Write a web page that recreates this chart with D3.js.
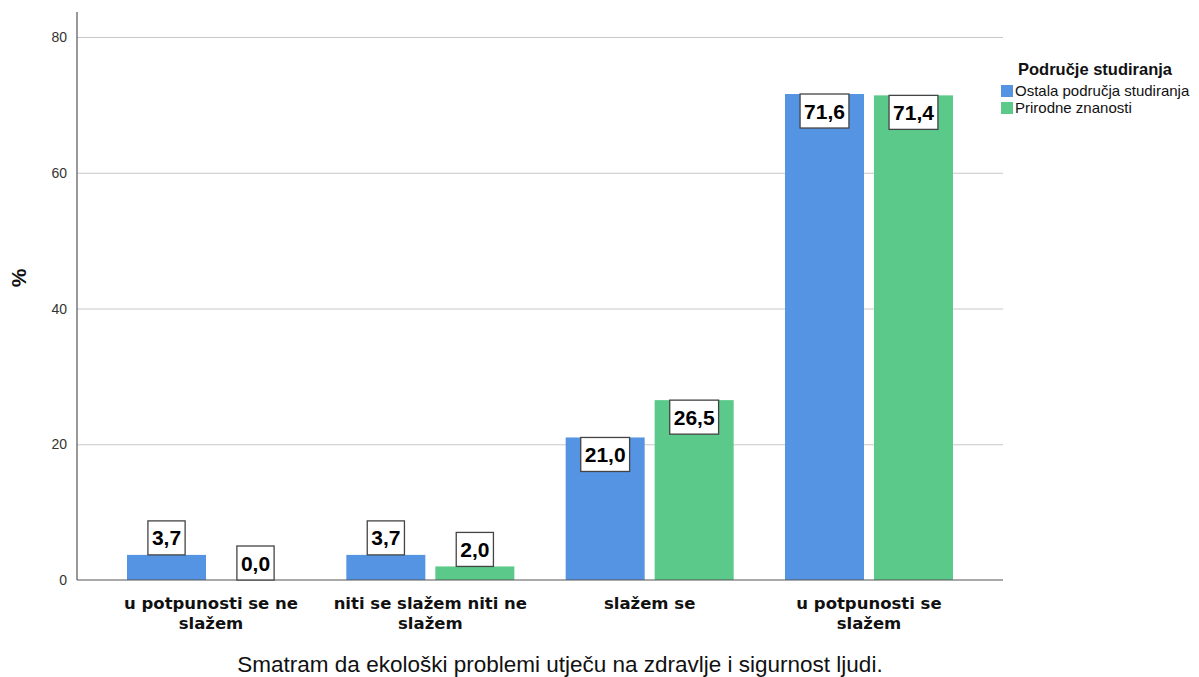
<!DOCTYPE html>
<html>
  <head>
    <meta charset="utf-8">
    <title>D3</title>
    <script src="https://d3js.org/d3.v7.min.js"></script>
    <style>
      body { margin: 0; background: #fff; }
      .grid line { stroke: #c8c8c8; }
      .grid path { display: none; }
    </style>
  </head>
  <body>
    <svg width="1199" height="677"></svg>
  <script>
    // data
    var categories = ["u potpunosti se ne slažem", "niti se slažem niti ne slažem", "slažem se", "u potpunosti se slažem"];
    var catLines = [["u potpunosti se ne", "slažem"], ["niti se slažem niti ne", "slažem"], ["slažem se"], ["u potpunosti se", "slažem"]];
    var seriesNames = ["Ostala područja studiranja", "Prirodne znanosti"];
    var ostala = [3.7, 3.7, 21.0, 71.6];
    var prirodne = [0.0, 2.0, 26.5, 71.4];
    var yTicks = [0, 20, 40, 60, 80];
    var colors = ["#5594e3", "#5ac98a"];

    var svg = d3.select("svg"),
        plotLeft = 77, plotRight = 1003, plotTop = 12, plotBottom = 580;

    var yScale = d3.scaleLinear().domain([0, 80]).range([plotBottom, 37]);
    var x0 = d3.scaleBand().domain(categories).range([plotLeft, plotRight])
               .paddingInner(0.234).paddingOuter(0.228);
    var x1 = d3.scaleBand().domain(seriesNames).range([0, x0.bandwidth()])
               .paddingInner(0.112);

    // gridlines
    svg.append("g")
      .attr("class", "grid")
      .attr("transform", "translate(" + plotLeft + ",0)")
      .call(d3.axisRight(yScale).tickValues(yTicks.slice(1)).tickSize(plotRight - plotLeft).tickFormat(""));

    // y tick labels
    svg.selectAll(".ylab")
      .data(yTicks)
      .enter().append("text")
      .attr("x", 67)
      .attr("y", function(d) { return yScale(d) + 5; })
      .attr("text-anchor", "end")
      .attr("font-family", "Liberation Sans, Arial, sans-serif")
      .attr("font-size", "14px")
      .attr("fill", "#333")
      .text(function(d) { return d; });

    // y title
    svg.append("text")
      .attr("transform", "translate(26,278) rotate(-90)")
      .attr("text-anchor", "middle")
      .attr("font-family", "Liberation Sans, Arial, sans-serif")
      .attr("font-weight", "bold")
      .attr("font-size", "21px")
      .attr("fill", "#111")
      .text("%");

    // bars
    var rows = categories.map(function(c, i) {
      return [{cat: c, s: seriesNames[0], v: ostala[i], k: 0},
              {cat: c, s: seriesNames[1], v: prirodne[i], k: 1}];
    });
    var flat = [].concat.apply([], rows);

    svg.selectAll(".bar")
      .data(flat)
      .enter().append("rect")
      .attr("class", "bar")
      .attr("x", function(d) { return x0(d.cat) + x1(d.s); })
      .attr("y", function(d) { return yScale(d.v); })
      .attr("width", x1.bandwidth())
      .attr("height", function(d) { return plotBottom - yScale(d.v); })
      .attr("fill", function(d) { return colors[d.k]; });

    // axes lines
    svg.append("line").attr("x1", plotLeft).attr("x2", plotLeft).attr("y1", plotTop).attr("y2", plotBottom)
      .attr("stroke", "#555").attr("stroke-width", 1.2);
    svg.append("line").attr("x1", plotLeft).attr("x2", plotRight).attr("y1", plotBottom).attr("y2", plotBottom)
      .attr("stroke", "#555").attr("stroke-width", 1.2);

    // value labels
    var boxH = 34;
    flat.forEach(function(d) {
      var cx = x0(d.cat) + x1(d.s) + x1.bandwidth() / 2;
      var barTop = yScale(d.v);
      var inside = (plotBottom - barTop) > boxH + 4;
      var boxTop = inside ? barTop : barTop - boxH;
      var g = svg.append("g");
      var t = g.append("text")
        .attr("x", cx)
        .attr("y", boxTop + boxH / 2 + 7.5)
        .attr("text-anchor", "middle")
        .attr("font-family", "Liberation Sans, Arial, sans-serif")
        .attr("font-weight", "bold")
        .attr("font-size", "21px")
        .attr("fill", "#000")
        .text(d3.format(".1f")(d.v).replace(".", ","));
      var w = t.node().getComputedTextLength() + 8;
      g.insert("rect", "text")
        .attr("x", cx - w / 2)
        .attr("y", boxTop)
        .attr("width", w)
        .attr("height", boxH)
        .attr("fill", "#fff")
        .attr("stroke", "#444")
        .attr("stroke-width", 1.3);
    });

    // x category labels
    catLines.forEach(function(lines, i) {
      var cx = x0(categories[i]) + x0.bandwidth() / 2;
      var t = svg.append("text")
        .attr("text-anchor", "middle")
        .attr("font-family", "DejaVu Sans, sans-serif")
        .attr("font-weight", "bold")
        .attr("font-size", "16.5px")
        .attr("fill", "#111");
      lines.forEach(function(l, j) {
        t.append("tspan").attr("x", cx).attr("y", 609 + j * 20).text(l);
      });
    });

    // x title
    svg.append("text")
      .attr("x", 560)
      .attr("y", 672)
      .attr("text-anchor", "middle")
      .attr("font-family", "Liberation Sans, Arial, sans-serif")
      .attr("font-size", "22.5px")
      .attr("fill", "#111")
      .text("Smatram da ekološki problemi utječu na zdravlje i sigurnost ljudi.");

    // legend
    svg.append("text")
      .attr("x", 1018).attr("y", 75)
      .attr("font-family", "Liberation Sans, Arial, sans-serif")
      .attr("font-weight", "bold")
      .attr("font-size", "16.5px")
      .attr("fill", "#111")
      .text("Područje studiranja");

    var leg = svg.selectAll(".leg")
      .data(seriesNames)
      .enter().append("g")
      .attr("transform", function(d, i) { return "translate(1001," + (85 + i * 17) + ")"; });
    leg.append("rect").attr("width", 12).attr("height", 12)
      .attr("fill", function(d, i) { return colors[i]; });
    leg.append("text")
      .attr("x", 14).attr("y", 11)
      .attr("font-family", "Liberation Sans, Arial, sans-serif")
      .attr("font-size", "15px")
      .attr("fill", "#111")
      .text(function(d) { return d; });
  </script>
  </body>
</html>
